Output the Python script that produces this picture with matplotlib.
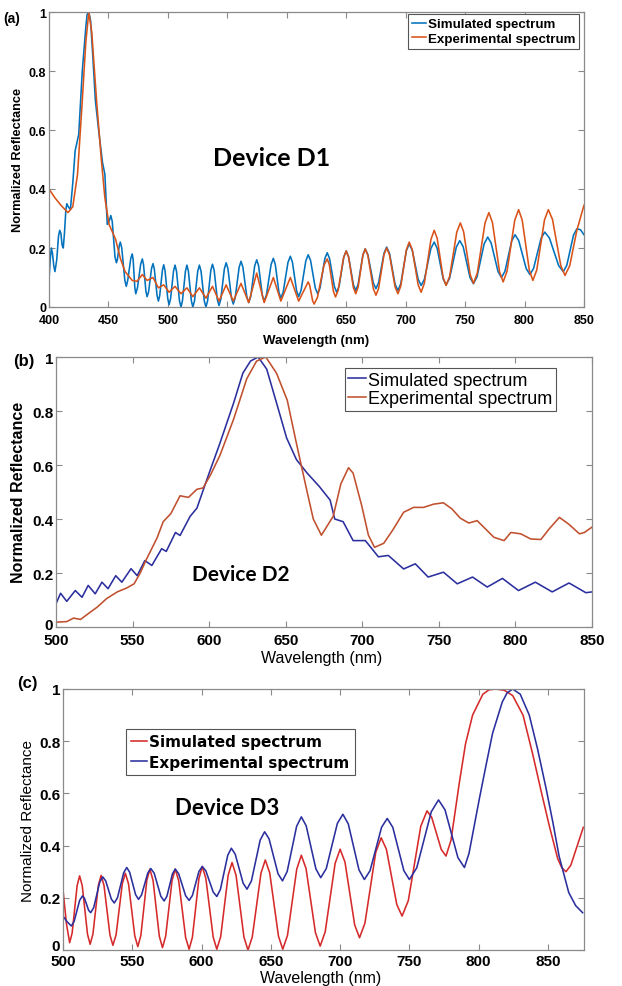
import matplotlib
matplotlib.use("Agg")
import matplotlib.pyplot as plt
from matplotlib.transforms import ScaledTranslation

# ---------------- Panel (a): Device D1 ----------------
a_sim_wl = [400, 401, 402, 403, 404, 405, 406.5, 408, 409, 410, 411, 412, 413, 414.2, 415, 416.2,
            418, 420, 422, 425, 428, 431, 432, 433, 434, 435, 437, 439, 442, 445,
            447, 449, 450.5, 452, 453.2, 455.5, 456.7, 457.5, 459.2, 460, 461.2, 463.8, 465,
            466.2, 468.8, 470, 470.8, 472.2, 473, 474.4, 477.1, 478.5,
            479.5, 481.5, 482.5, 483.75, 486.25, 487.5, 488.6, 490.9, 492, 493.1, 495.4, 496.5,
            497.6, 499.9, 501, 502.25, 504.75, 506, 507.25, 509.75, 511, 512.25, 514.75, 516,
            517.25, 519.75, 521, 522.4, 525.1, 526.5, 527.9, 530.6, 532, 533.4, 536.1, 537.5,
            538.9, 541.6, 543, 544.5, 547.5, 549, 550.5, 553.5, 555, 556.6, 559.9, 561.5,
            563.1, 566.4, 568, 569.7, 573, 574.7, 576.3, 579.4, 581, 582.9, 586.8, 588.7,
            590.3, 593.4, 595, 597, 601, 603, 604.75, 608.25, 610, 612, 616, 618,
            620, 624, 626, 628, 632, 634, 636, 640, 642, 644, 648, 650,
            652, 656, 658, 660, 664, 666, 668.25, 672.75, 675, 677.25, 681.75, 684,
            686.4, 691.1, 693.5, 695.9, 700.6, 703, 705.5, 710.5, 713, 715.75, 721.25, 724,
            726.5, 731.5, 734, 736.9, 742.6, 745.5, 748.4, 754.1, 757, 760, 766, 769,
            771.9, 777.7, 780.6, 783.5, 789.2, 792, 795.1, 801.4, 804.5, 807.6, 813.9, 817,
            820.9, 828.7, 832.6, 835.5, 841.2, 844, 847, 850]
a_sim_r = [0.09, 0.16, 0.20, 0.18, 0.14, 0.12, 0.16, 0.24, 0.26, 0.25, 0.21, 0.20, 0.25, 0.33, 0.35, 0.34,
           0.33, 0.42, 0.53, 0.585, 0.80, 0.95, 0.99, 1.0, 0.99, 0.97, 0.84, 0.70, 0.59, 0.49,
           0.45, 0.28, 0.29, 0.31, 0.29, 0.17, 0.15, 0.16, 0.21, 0.22, 0.20, 0.09, 0.07,
           0.09, 0.165, 0.18, 0.16, 0.065, 0.045, 0.065, 0.145, 0.163,
           0.144, 0.054, 0.035, 0.051, 0.131, 0.147, 0.128, 0.039, 0.02, 0.038, 0.125, 0.143,
           0.123, 0.028, 0.008, 0.028, 0.122, 0.142, 0.121, 0.021, 0.0, 0.021, 0.121, 0.142,
           0.121, 0.021, 0.0, 0.021, 0.121, 0.142, 0.121, 0.021, 0.0, 0.021, 0.124, 0.145,
           0.125, 0.025, 0.005, 0.026, 0.129, 0.15, 0.13, 0.03, 0.01, 0.031, 0.134, 0.155,
           0.135, 0.035, 0.015, 0.036, 0.139, 0.16, 0.14, 0.04, 0.02, 0.041, 0.144, 0.165,
           0.145, 0.05, 0.03, 0.051, 0.151, 0.172, 0.152, 0.055, 0.035, 0.056, 0.156, 0.177,
           0.158, 0.064, 0.045, 0.065, 0.164, 0.184, 0.164, 0.07, 0.05, 0.07, 0.17, 0.19,
           0.17, 0.076, 0.056, 0.077, 0.176, 0.197, 0.177, 0.082, 0.062, 0.083, 0.182, 0.203,
           0.182, 0.077, 0.056, 0.079, 0.191, 0.214, 0.193, 0.094, 0.073, 0.094, 0.199, 0.22,
           0.199, 0.096, 0.075, 0.097, 0.203, 0.225, 0.204, 0.10, 0.079, 0.102, 0.214, 0.237,
           0.217, 0.12, 0.10, 0.121, 0.224, 0.245, 0.225, 0.13, 0.11, 0.131, 0.233, 0.254,
           0.234, 0.14, 0.12, 0.141, 0.244, 0.265, 0.262, 0.245]

a_exp_wl = [400, 405, 410, 416, 420, 424, 428, 431, 433.5, 436, 440, 444, 447, 450.5, 456, 460,
            464, 470, 474, 478.5, 482.5, 487.5, 492, 496.5, 501, 506, 511, 516, 521, 526.5, 532,
            537.5, 543, 549, 555, 561.5, 568, 574.7, 581, 588.7, 595, 603, 610, 618,
            619.25, 621.75, 623, 625.75, 631.25, 634, 635.75, 639.25, 641, 643.25, 647.75, 650,
            652, 656, 658, 660, 664, 666, 668.25, 672.75, 675, 677.25, 681.75, 684,
            686.4, 691.1, 693.5, 695.9, 700.6, 703, 705.5, 710.5, 713, 715.75, 721.25, 724,
            726.5, 731.5, 734, 737, 743, 746, 748.75, 754.25, 757, 760.25, 766.75, 770,
            773, 779, 782, 785.25, 791.75, 795, 798, 804, 807, 810.25, 816.75, 820,
            823.5, 830.5, 834, 838, 844, 850]
a_exp_r = [0.40, 0.37, 0.345, 0.32, 0.34, 0.45, 0.70, 0.90, 1.0, 0.93, 0.70, 0.50, 0.37, 0.28, 0.23, 0.165,
           0.12, 0.09, 0.087, 0.11, 0.09, 0.10, 0.065, 0.075, 0.05, 0.07, 0.045, 0.065, 0.035, 0.065, 0.03,
           0.07, 0.02, 0.075, 0.02, 0.08, 0.015, 0.115, 0.015, 0.10, 0.02, 0.10, 0.02, 0.085,
           0.074, 0.021, 0.01, 0.032, 0.141, 0.163, 0.144, 0.053, 0.034, 0.057, 0.167, 0.19,
           0.169, 0.066, 0.045, 0.067, 0.175, 0.197, 0.174, 0.063, 0.04, 0.063, 0.177, 0.20,
           0.177, 0.068, 0.045, 0.071, 0.194, 0.22, 0.195, 0.075, 0.05, 0.081, 0.229, 0.26,
           0.233, 0.10, 0.073, 0.104, 0.254, 0.285, 0.255, 0.11, 0.08, 0.115, 0.285, 0.32,
           0.286, 0.119, 0.085, 0.121, 0.294, 0.33, 0.295, 0.125, 0.09, 0.125, 0.295, 0.33,
           0.297, 0.14, 0.107, 0.14, 0.26, 0.345]

# ---------------- Panel (b): Device D2 ----------------
b_sim_wl = [500, 503, 507, 512.6, 517, 521, 525.6, 530, 534, 539, 543, 549, 553, 558, 562.6, 569,
            572, 578, 581, 587.6, 592, 600, 607, 616, 622, 627, 632, 637.6, 644, 650.6, 657, 664,
            672, 679, 682, 687.5, 694, 702, 710.5, 717, 727, 734.6, 743, 753, 762, 772, 781.6,
            791.5, 802, 813, 824, 835, 846, 850]
b_sim_r = [0.086, 0.125, 0.095, 0.135, 0.11, 0.154, 0.123, 0.166, 0.142, 0.19, 0.166, 0.216, 0.19, 0.246, 0.228, 0.29,
           0.28, 0.35, 0.339, 0.41, 0.44, 0.57, 0.68, 0.83, 0.94, 0.985, 1.0, 0.955, 0.83, 0.70, 0.62, 0.57,
           0.52, 0.47, 0.40, 0.39, 0.32, 0.32, 0.26, 0.265, 0.215, 0.234, 0.185, 0.203, 0.16, 0.185, 0.148,
           0.18, 0.135, 0.166, 0.13, 0.163, 0.127, 0.13]

b_exp_wl = [500, 507, 511.5, 516, 520, 527, 533, 540, 546, 551, 555, 559, 566, 570, 575, 581,
            586.5, 592, 596, 600.6, 607, 616, 624.6, 631, 637, 644, 651, 657, 664, 668, 673.3,
            681, 686, 691, 694, 699.6, 704, 708, 714, 720, 727, 733.5, 740, 746.6, 753, 758.6,
            764, 769.6, 775, 780.5, 786, 792.6, 797, 803.5, 810, 816.6, 822, 828.7, 835, 841.8,
            845, 850]
b_exp_r = [0.018, 0.02, 0.033, 0.028, 0.045, 0.074, 0.105, 0.13, 0.144, 0.16, 0.20, 0.25, 0.33, 0.39, 0.42, 0.486,
           0.48, 0.51, 0.515, 0.56, 0.635, 0.77, 0.92, 0.985, 1.0, 0.94, 0.84, 0.68, 0.50, 0.40, 0.34,
           0.41, 0.53, 0.59, 0.57, 0.45, 0.34, 0.295, 0.31, 0.36, 0.425, 0.443, 0.443, 0.455, 0.46, 0.437,
           0.403, 0.385, 0.394, 0.363, 0.332, 0.32, 0.35, 0.345, 0.326, 0.324, 0.363, 0.406, 0.38, 0.345,
           0.35, 0.37]

# ---------------- Panel (c): Device D3 ----------------
c_sim_wl = [500, 502.5, 504.8, 506.6, 510.2, 512, 513.9, 517.7, 519.6, 521.6, 525.5, 527.5,
            529.6, 533.9, 536, 538.3, 542.8, 545, 547.3, 551.8, 554, 556.2, 560.5, 562.7,
            565, 569.5, 571.8, 574.1, 578.7, 581, 583.5, 588.5, 591, 593.4, 598.1, 600.5,
            603.1, 608.4, 611, 613.8, 619.2, 622, 624.9, 630.6, 633.5, 636.6, 642.9, 646,
            649.2, 655.5, 658.6, 662, 668.7, 672, 675.4, 682.2, 685.6, 689.2, 696.4, 700,
            703.5, 710.5, 714, 717.9, 725.7, 729.6, 733.4, 740.9, 744.7, 749.2, 758.2, 762.7,
            766.1, 773, 776.4, 780, 786, 790.5, 795.6, 803, 807.5, 812.5, 818.5, 824.5,
            832, 839, 845, 851, 857, 860, 863, 866.5, 875.5]
c_sim_r = [0.23, 0.10, 0.028, 0.065, 0.247, 0.284, 0.246, 0.060, 0.022, 0.061, 0.247, 0.286,
           0.247, 0.057, 0.018, 0.058, 0.254, 0.294, 0.253, 0.054, 0.013, 0.056, 0.267, 0.31,
           0.266, 0.053, 0.009, 0.053, 0.266, 0.31, 0.265, 0.048, 0.003, 0.049, 0.274, 0.32,
           0.274, 0.049, 0.003, 0.051, 0.287, 0.335, 0.286, 0.049, 0.0, 0.05, 0.295, 0.345,
           0.295, 0.053, 0.003, 0.056, 0.31, 0.363, 0.312, 0.066, 0.015, 0.069, 0.332, 0.386,
           0.337, 0.096, 0.047, 0.103, 0.374, 0.43, 0.386, 0.174, 0.13, 0.189, 0.474, 0.533,
           0.508, 0.385, 0.36, 0.42, 0.64, 0.79, 0.90, 0.98, 0.997, 1.0, 0.995, 0.975,
           0.90, 0.75, 0.61, 0.475, 0.35, 0.315, 0.30, 0.325, 0.47]

c_exp_wl = [500, 503, 506, 508, 512, 514, 515.5, 518.5, 520, 522.2, 526.5, 528.7,
            530.8, 534.9, 537, 539.3, 543.8, 546, 548.1, 552.4, 554.5, 556.7, 561.2, 563.4,
            565.8, 570.6, 573, 575, 579, 581, 583.5, 588.5, 591, 593.4, 598.1, 600.5,
            603.1, 608.4, 611, 613.6, 618.9, 621.5, 624.3, 630, 632.8, 636, 642.3, 645.5,
            648.7, 655.2, 658.4, 661.8, 668.6, 672, 675.5, 682.5, 686, 690, 698, 702,
            705.9, 713.6, 717.5, 721.6, 729.9, 734, 738, 746, 750, 755.3, 765.8, 771,
            775.7, 785, 789.7, 793, 800.5, 805, 810, 817, 820.5, 824.5, 830, 836.5,
            842.5, 848.6, 853.5, 858, 865, 870, 875]
c_exp_r = [0.13, 0.108, 0.092, 0.109, 0.19, 0.207, 0.198, 0.152, 0.143, 0.163, 0.26, 0.28,
           0.265, 0.195, 0.18, 0.20, 0.296, 0.316, 0.298, 0.212, 0.194, 0.211, 0.295, 0.312,
           0.294, 0.206, 0.188, 0.206, 0.292, 0.31, 0.292, 0.208, 0.19, 0.209, 0.301, 0.32,
           0.303, 0.222, 0.205, 0.232, 0.363, 0.39, 0.367, 0.256, 0.233, 0.265, 0.421, 0.453,
           0.426, 0.292, 0.265, 0.301, 0.474, 0.51, 0.476, 0.311, 0.277, 0.312, 0.485, 0.52,
           0.483, 0.307, 0.27, 0.304, 0.47, 0.504, 0.47, 0.304, 0.27, 0.315, 0.53, 0.575,
           0.537, 0.354, 0.316, 0.37, 0.58, 0.70, 0.83, 0.95, 0.985, 1.0, 0.98, 0.90,
           0.77, 0.62, 0.49, 0.36, 0.22, 0.17, 0.143]

y_ticks = [0, 0.2, 0.4, 0.6, 0.8, 1.0]
y_ticklabels = ["0", "0.2", "0.4", "0.6", "0.8", "1"]
a_xticks = [400, 450, 500, 550, 600, 650, 700, 750, 800, 850]
b_xticks = [500, 550, 600, 650, 700, 750, 800, 850]
c_xticks = [500, 550, 600, 650, 700, 750, 800, 850]
legend_labels = ["Simulated spectrum", "Experimental spectrum"]

W, H = 622, 987
fig = plt.figure(figsize=(W / 100, H / 100), dpi=100)
SANS = ["Liberation Sans", "DejaVu Sans"]
SPINE = "#8a8a8a"


def px_axes(l, t, r, b):
    return fig.add_axes([l / W, 1 - b / H, (r - l) / W, (b - t) / H])


def ftext(x, y, s, **kw):
    fig.text(x / W, 1 - y / H, s, **kw)


def style(ax, xlim, xticks, fs, weight, xpad, zero_lift):
    ax.set_xlim(*xlim)
    ax.set_ylim(0, 1)
    ax.set_xticks(xticks)
    ax.set_xticklabels([str(t) for t in xticks])
    ax.set_yticks(y_ticks)
    ax.set_yticklabels(y_ticklabels)
    ax.tick_params(direction="in", top=True, right=True, length=4, width=0.8,
                   color=SPINE, labelsize=fs, pad=2)
    ax.tick_params(axis="x", pad=xpad)
    for lab in ax.get_xticklabels() + ax.get_yticklabels():
        lab.set_fontfamily(SANS)
        lab.set_fontweight(weight)
    if zero_lift:
        z = ax.get_yticklabels()[0]
        z.set_transform(z.get_transform() + ScaledTranslation(0, zero_lift / 100, fig.dpi_scale_trans))
    for sp in ax.spines.values():
        sp.set_color(SPINE)
        sp.set_linewidth(0.9)


LW = 1.15

# ---- (a)
axa = px_axes(49, 13, 584, 308)
la1, = axa.plot(a_sim_wl, a_sim_r, color="#0072BD", lw=LW, solid_joinstyle="round")
la2, = axa.plot(a_exp_wl, a_exp_r, color="#D95319", lw=LW, solid_joinstyle="round")
style(axa, (400, 850), a_xticks, 9, "bold", 5, 0)
leg = axa.legend([la1, la2], legend_labels, loc="upper right",
                 bbox_to_anchor=(579 / W, 1 - 15 / H), bbox_transform=fig.transFigure,
                 borderaxespad=0, fancybox=False, framealpha=1, edgecolor="#555555",
                 handlelength=1.1, handletextpad=0.1, borderpad=0.3, labelspacing=0.15,
                 prop={"family": SANS, "weight": "bold", "size": 9.6})
leg.get_frame().set_linewidth(0.8)
ftext(272, 158, "Device D1", family=["Lato", "DejaVu Sans"], weight="bold", fontsize=18,
      ha="center", va="center")
ftext(316, 341, "Wavelength (nm)", family=SANS, weight="bold", fontsize=9.5, ha="center", va="center")
ftext(18, 160, "Normalized Reflectance", family=SANS, weight="bold", fontsize=9.2,
      rotation=90, ha="center", va="center")
ftext(3, 19, "(a)", family=SANS, weight="bold", fontsize=10, ha="left", va="center")

# ---- (b)
axb = px_axes(56, 358, 592, 628)
lb1, = axb.plot(b_sim_wl, b_sim_r, color="#2B2F9E", lw=LW, solid_joinstyle="round")
lb2, = axb.plot(b_exp_wl, b_exp_r, color="#C0502E", lw=LW, solid_joinstyle="round")
style(axb, (500, 850), b_xticks, 11, "bold", 4, 4)
leg = axb.legend([lb1, lb2], legend_labels, loc="upper right",
                 bbox_to_anchor=(556 / W, 1 - 369 / H), bbox_transform=fig.transFigure,
                 borderaxespad=0, fancybox=False, framealpha=1, edgecolor="#555555",
                 handlelength=1.0, handletextpad=0.1, borderpad=0.2, labelspacing=0.1,
                 prop={"family": SANS, "size": 13})
leg.get_frame().set_linewidth(0.8)
ftext(241, 575, "Device D2", family=["Lato", "DejaVu Sans"], weight="bold", fontsize=15,
      ha="center", va="center")
ftext(322, 659, "Wavelength (nm)", family=SANS, fontsize=11.5, ha="center", va="center")
ftext(19, 492, "Normalized Reflectance", family=SANS, weight="bold", fontsize=11.5,
      rotation=90, ha="center", va="center")
ftext(13, 362, "(b)", family=SANS, weight="bold", fontsize=12, ha="left", va="center")

# ---- (c)
axc = px_axes(63, 690, 584, 951)
lc1, = axc.plot(c_sim_wl, c_sim_r, color="#D62A2A", lw=LW, solid_joinstyle="round")
lc2, = axc.plot(c_exp_wl, c_exp_r, color="#2B2F9E", lw=LW, solid_joinstyle="round")
style(axc, (500, 876), c_xticks, 11, "bold", 3, 5)
leg = axc.legend([lc1, lc2], legend_labels, loc="upper left",
                 bbox_to_anchor=(126 / W, 1 - 730 / H), bbox_transform=fig.transFigure,
                 borderaxespad=0, fancybox=False, framealpha=1, edgecolor="#555555",
                 handlelength=1.0, handletextpad=0.15, borderpad=0.35, labelspacing=0.35,
                 prop={"family": ["DejaVu Sans"], "weight": "bold", "size": 11})
leg.get_frame().set_linewidth(0.8)
ftext(227, 809, "Device D3", family=["Lato", "DejaVu Sans"], weight="bold", fontsize=16,
      ha="center", va="center")
ftext(321, 979, "Wavelength (nm)", family=SANS, fontsize=11.5, ha="center", va="center")
ftext(28, 821, "Normalized Reflectance", family=SANS, fontsize=11, rotation=90,
      ha="center", va="center")
ftext(17, 684, "(c)", family=SANS, weight="bold", fontsize=12, ha="left", va="center")

fig.savefig("out.png", dpi=100)
